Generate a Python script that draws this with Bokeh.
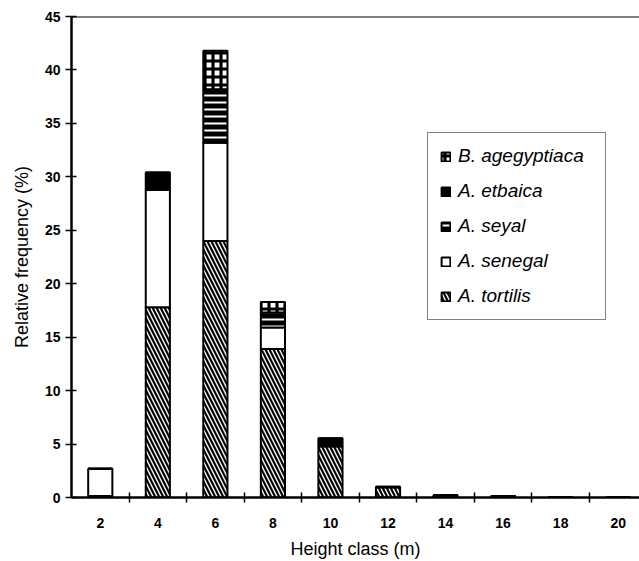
from bokeh.plotting import figure
from bokeh.models import ColumnDataSource, Range1d, FixedTicker, Span, Legend, LegendItem
from bokeh.embed import file_html
from bokeh.resources import INLINE

height_classes = ["2", "4", "6", "8", "10", "12", "14", "16", "18", "20"]
tortilis = [0.15, 17.8, 24.0, 13.9, 4.8, 0.95, 0.2, 0.15, 0.0, 0.0]
senegal = [2.55, 11.0, 9.2, 2.0, 0.0, 0.0, 0.0, 0.0, 0.0, 0.0]
seyal = [0.0, 0.0, 5.0, 1.4, 0.0, 0.0, 0.0, 0.0, 0.0, 0.0]
etbaica = [0.0, 1.6, 0.0, 0.0, 0.75, 0.05, 0.0, 0.0, 0.0, 0.0]
agegyptiaca = [0.0, 0.0, 3.6, 1.0, 0.0, 0.0, 0.0, 0.0, 0.0, 0.0]

species = ["tortilis", "senegal", "seyal", "etbaica", "agegyptiaca"]
labels = ["A. tortilis", "A. senegal", "A. seyal", "A. etbaica", "B. agegyptiaca"]

xpos = list(range(1, len(height_classes) + 1))
source = ColumnDataSource(dict(x=xpos, tortilis=tortilis, senegal=senegal,
                               seyal=seyal, etbaica=etbaica, agegyptiaca=agegyptiaca))

p = figure(width=639, height=561, output_backend="svg", toolbar_location=None,
           x_range=Range1d(0.5, 10.37), y_range=Range1d(0, 45),
           min_border_left=71, min_border_top=16, min_border_bottom=62, min_border_right=0)
p.outline_line_color = None
p.grid.visible = False
p.background_fill_color = "white"

fills = ["white", "white", "black", "black", "white"]
hatches = ["left_diagonal_line", " ", "horizontal_line", " ", "cross"]
hatch_colors = ["black", "black", "white", "black", "black"]
hatch_weights = [2.2, 1, 2.0, 1, 3.2]
hatch_scales = [8, 7, 7, 7, 8]

renderers = p.vbar_stack(species, x="x", width=0.42, source=source,
                         fill_color=fills, line_color="black", line_width=2,
                         hatch_pattern=hatches, hatch_color=hatch_colors,
                         hatch_weight=hatch_weights, hatch_scale=hatch_scales)

items = [LegendItem(label=labels[i], renderers=[renderers[i]]) for i in range(len(species))][::-1]
legend = Legend(items=items, location=(356, 177), label_text_font="Liberation Sans",
                label_text_font_style="italic", label_text_font_size="19px",
                label_text_color="black",
                glyph_width=11, glyph_height=11, label_height=22, label_width=135,
                spacing=13, padding=12, margin=0, label_standoff=7,
                border_line_color="black", border_line_width=1.2,
                background_fill_alpha=1.0)
p.add_layout(legend, "center")

p.add_layout(Span(location=45, dimension="width", line_color="black", line_width=2))

# x axis
p.xaxis.ticker = FixedTicker(ticks=xpos, minor_ticks=[x + 0.5 for x in xpos])
p.xaxis.major_label_overrides = {x: lab for x, lab in zip(xpos, height_classes)}
p.xaxis.major_tick_in = 0
p.xaxis.major_tick_out = 0
p.xaxis.minor_tick_in = 5
p.xaxis.minor_tick_out = 5
p.xaxis.minor_tick_line_color = "black"
p.xaxis.minor_tick_line_width = 1.5
p.xaxis.axis_line_width = 2.5
p.xaxis.axis_line_color = "black"
p.xaxis.major_label_standoff = 15
p.xaxis.axis_label = "Height class (m)"
p.xaxis.axis_label_standoff = 8

# y axis
p.yaxis.ticker = FixedTicker(ticks=list(range(0, 46, 5)), minor_ticks=[])
p.yaxis.major_tick_in = 5
p.yaxis.major_tick_out = 6
p.yaxis.major_tick_line_width = 1.5
p.yaxis.axis_line_width = 2.5
p.yaxis.axis_line_color = "black"
p.yaxis.major_label_standoff = 5
p.yaxis.axis_label = "Relative frequency (%)"
p.yaxis.axis_label_standoff = 10

for ax in (p.xaxis, p.yaxis):
    ax.major_label_text_font = "Liberation Sans"
    ax.major_label_text_font_style = "bold"
    ax.major_label_text_font_size = "14px"
    ax.major_label_text_color = "black"
    ax.axis_label_text_font = "Liberation Sans"
    ax.axis_label_text_font_style = "normal"
    ax.axis_label_text_font_size = "18px"
    ax.axis_label_text_color = "black"

open("out.html", "w").write(file_html(p, INLINE))
